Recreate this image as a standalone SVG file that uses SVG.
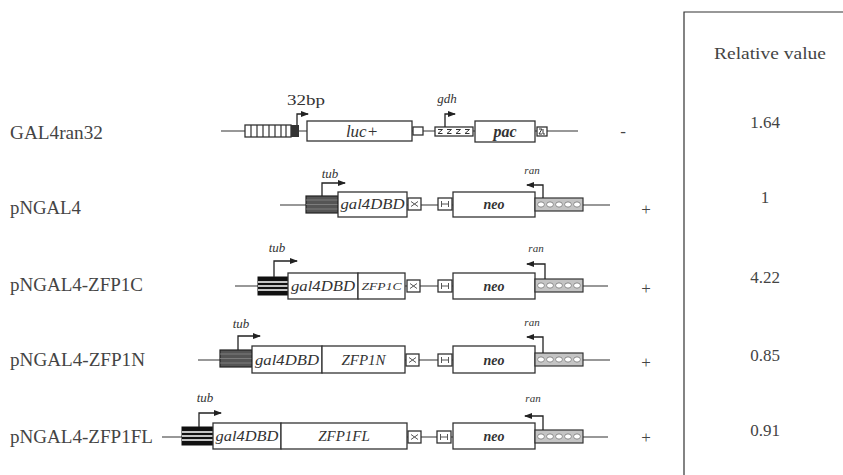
<svg xmlns="http://www.w3.org/2000/svg" xmlns:xlink="http://www.w3.org/1999/xlink" width="843" height="475" viewBox="0 0 843 475">
<style>
.bg{fill:#fff}
.ln{stroke:#333;stroke-width:1.2;fill:none}
.bx{fill:#fff;stroke:#333;stroke-width:1.3}
.pr{stroke:#222;stroke-width:1.3;fill:none;marker-end:url(#ah)}
.lbl{font-family:"Liberation Serif","Times New Roman",serif;font-size:18px;fill:#444}
.val{font-family:"Liberation Serif","Times New Roman",serif;font-size:17px;fill:#444;text-anchor:middle}
.it{font-family:"Liberation Serif","Times New Roman",serif;font-style:italic;fill:#333;text-anchor:middle}
.bi{font-family:"Liberation Serif","Times New Roman",serif;font-style:italic;font-weight:bold;fill:#333;text-anchor:middle}
.sm{font-family:"Liberation Serif","Times New Roman",serif;fill:#333}
</style>
<defs>
<marker id="ah" markerWidth="9" markerHeight="7" refX="7" refY="3" orient="auto" markerUnits="userSpaceOnUse">
<path d="M0,0 L8,3 L0,6 z" fill="#222"/>
</marker>
<g id="chk">
<rect x="0" y="0" width="48" height="13" fill="#c4c4c4" stroke="#333" stroke-width="1.2"/>
<g fill="#fff" stroke="#777" stroke-width="0.8">
<ellipse cx="6" cy="6.5" rx="3.4" ry="2.6"/><ellipse cx="15" cy="6.5" rx="3.4" ry="2.6"/><ellipse cx="24" cy="6.5" rx="3.4" ry="2.6"/><ellipse cx="33" cy="6.5" rx="3.4" ry="2.6"/><ellipse cx="42" cy="6.5" rx="3.4" ry="2.6"/>
</g>
</g>
<g id="dark">
<rect x="0" y="0" width="32" height="17" fill="#555" stroke="#222" stroke-width="1.2"/>
<path d="M0 4H32M0 8.5H32M0 13H32" stroke="#888" stroke-width="0.8"/>
</g>
<g id="blk">
<rect x="0" y="0" width="31" height="18" fill="#111" stroke="#111" stroke-width="1"/>
<path d="M0 5H31M0 9H31M0 13H31" stroke="#fff" stroke-width="1.4"/>
</g>
<g id="xb">
<rect x="0" y="0" width="13" height="12" class="bx"/>
<path d="M3 3.5L10 8.5M10 3.5L3 8.5" stroke="#555" stroke-width="1"/>
</g>
<g id="hb">
<rect x="0" y="0" width="14" height="12" class="bx"/>
<path d="M3.5 3V9M10.5 3V9M3.5 6H10.5" stroke="#555" stroke-width="1"/>
</g>
</defs>
<rect class="bg" x="0" y="0" width="843" height="475"/>

<g id="panel">
<path class="ln" d="M684 475V12H843"/>
<text class="val" x="770" y="59" font-size="15" textLength="112" lengthAdjust="spacingAndGlyphs">Relative value</text>
<text class="val" x="765" y="128">1.64</text>
<text class="val" x="765" y="203">1</text>
<text class="val" x="765" y="283">4.22</text>
<text class="val" x="765" y="361">0.85</text>
<text class="val" x="765" y="436">0.91</text>
</g>

<g id="labels">
<text class="lbl" x="10" y="139" textLength="93" lengthAdjust="spacingAndGlyphs">GAL4ran32</text>
<text class="lbl" x="10" y="214" textLength="71" lengthAdjust="spacingAndGlyphs">pNGAL4</text>
<text class="lbl" x="10" y="291" textLength="133" lengthAdjust="spacingAndGlyphs">pNGAL4-ZFP1C</text>
<text class="lbl" x="10" y="366" textLength="135" lengthAdjust="spacingAndGlyphs">pNGAL4-ZFP1N</text>
<text class="lbl" x="10" y="443" textLength="143" lengthAdjust="spacingAndGlyphs">pNGAL4-ZFP1FL</text>
</g>

<g id="connectors">
<line class="ln" x1="221" y1="131" x2="578" y2="131"/>
<line class="ln" x1="280" y1="205" x2="610" y2="205"/>
<line class="ln" x1="235" y1="286" x2="608" y2="286"/>
<line class="ln" x1="198" y1="360" x2="610" y2="360"/>
<line class="ln" x1="162" y1="437" x2="608" y2="437"/>
</g>

<g id="GAL4ran32">
<rect class="bx" x="245" y="125" width="46" height="12"/>
<path d="M251 125V137M257 125V137M263 125V137M269 125V137M275 125V137M281 125V137M286 125V137" stroke="#333" stroke-width="1.2"/>
<rect x="291" y="125" width="8" height="12" fill="#333"/>
<path class="pr" d="M297 125V114H308"/>
<text class="sm" x="287" y="105" font-size="15" textLength="38" lengthAdjust="spacingAndGlyphs">32bp</text>
<rect class="bx" x="307" y="121" width="105" height="20"/>
<text class="it" x="362" y="137" font-size="17">luc+</text>
<rect class="bx" x="413" y="127" width="10" height="8"/>
<rect class="bx" x="435" y="127" width="38" height="9"/>
<path d="M438 129.5h4.5l-4.5 4h4.5M447 129.5h4.5l-4.5 4h4.5M456 129.5h4.5l-4.5 4h4.5M465 129.5h4.5l-4.5 4h4.5" stroke="#333" stroke-width="1" fill="none"/>
<path class="pr" d="M445 127V114H455"/>
<text class="it" x="447" y="103" font-size="13">gdh</text>
<rect class="bx" x="475" y="121" width="60" height="21"/>
<text class="bi" x="505" y="137" font-size="16">pac</text>
<rect class="bx" x="537" y="127" width="10" height="9"/>
<path d="M539 129h3l-3 5h3M543 129v5h2" stroke="#333" stroke-width="1" fill="none"/>
<text class="val" x="623" y="137">-</text>
</g>

<g id="pNGAL4">
<use xlink:href="#dark" x="306" y="196"/>
<rect class="bx" x="338" y="192" width="69" height="25"/>
<text class="it" x="372.5" y="209" font-size="14" textLength="64" lengthAdjust="spacingAndGlyphs">gal4DBD</text>
<use xlink:href="#xb" x="408" y="198"/>
<use xlink:href="#hb" x="438" y="198"/>
<rect class="bx" x="453" y="192" width="82" height="25"/>
<text class="bi" x="494" y="209" font-size="14">neo</text>
<use xlink:href="#chk" x="535" y="198"/>
<path class="pr" d="M322 196V183H345"/>
<text class="it" x="330" y="178" font-size="13">tub</text>
<path class="pr" d="M543 198V185H527"/>
<text class="it" x="532" y="174" font-size="11">ran</text>
<text class="val" x="646" y="215">+</text>
</g>

<g id="pNGAL4-ZFP1C">
<use xlink:href="#blk" x="258" y="277"/>
<rect class="bx" x="288" y="273" width="70" height="26"/>
<text class="it" x="323" y="291" font-size="14" textLength="64" lengthAdjust="spacingAndGlyphs">gal4DBD</text>
<rect class="bx" x="358" y="273" width="47" height="26"/>
<text class="it" x="381.5" y="290" font-size="10" textLength="40" lengthAdjust="spacingAndGlyphs">ZFP1C</text>
<use xlink:href="#xb" x="407" y="280"/>
<use xlink:href="#hb" x="438" y="280"/>
<rect class="bx" x="453" y="273" width="82" height="26"/>
<text class="bi" x="494" y="291" font-size="14">neo</text>
<use xlink:href="#chk" x="535" y="279"/>
<path class="pr" d="M274 277V261H297"/>
<text class="it" x="277" y="252" font-size="13">tub</text>
<path class="pr" d="M545 279V264H527"/>
<text class="it" x="536" y="252" font-size="11">ran</text>
<text class="val" x="646" y="294">+</text>
</g>

<g id="pNGAL4-ZFP1N">
<use xlink:href="#dark" x="220" y="350"/>
<rect class="bx" x="252" y="346" width="70" height="27"/>
<text class="it" x="287" y="365" font-size="14" textLength="64" lengthAdjust="spacingAndGlyphs">gal4DBD</text>
<rect class="bx" x="322" y="346" width="83" height="27"/>
<text class="it" x="363.5" y="365" font-size="15">ZFP1N</text>
<use xlink:href="#xb" x="406" y="354"/>
<use xlink:href="#hb" x="438" y="354"/>
<rect class="bx" x="453" y="346" width="82" height="27"/>
<text class="bi" x="494" y="365" font-size="14">neo</text>
<use xlink:href="#chk" x="535" y="353"/>
<path class="pr" d="M238 350V336H260"/>
<text class="it" x="241" y="328" font-size="13">tub</text>
<path class="pr" d="M543 353V337H527"/>
<text class="it" x="532" y="326" font-size="11">ran</text>
<text class="val" x="646" y="368">+</text>
</g>

<g id="pNGAL4-ZFP1FL">
<use xlink:href="#blk" x="182" y="427"/>
<rect class="bx" x="213" y="423" width="68" height="26"/>
<text class="it" x="247" y="441" font-size="14" textLength="63" lengthAdjust="spacingAndGlyphs">gal4DBD</text>
<rect class="bx" x="281" y="423" width="126" height="26"/>
<text class="it" x="344" y="441" font-size="15">ZFP1FL</text>
<use xlink:href="#xb" x="408" y="431"/>
<use xlink:href="#hb" x="437" y="431"/>
<rect class="bx" x="453" y="423" width="82" height="26"/>
<text class="bi" x="494" y="441" font-size="14">neo</text>
<use xlink:href="#chk" x="535" y="430"/>
<path class="pr" d="M199 427V413H221"/>
<text class="it" x="205" y="402" font-size="13">tub</text>
<path class="pr" d="M543 430V416H525"/>
<text class="it" x="533" y="402" font-size="11">ran</text>
<text class="val" x="646" y="443">+</text>
</g>
</svg>
